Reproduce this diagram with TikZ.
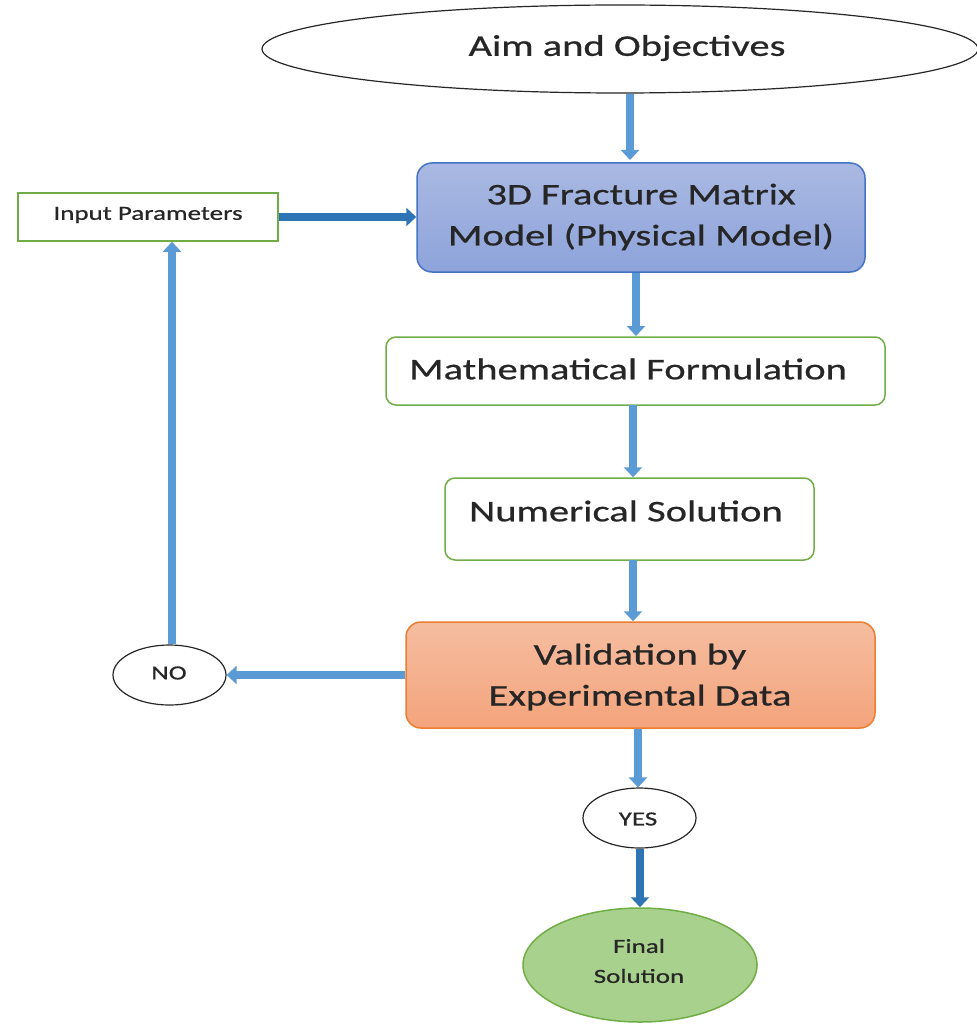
\documentclass[tikz,border=0pt]{standalone}
\usepackage{fontspec}
\setmainfont[FakeStretch=1.35,FakeBold=0.7]{Carlito}
\usetikzlibrary{arrows.meta,shapes.geometric}
\definecolor{lblue}{HTML}{5B9BD5}
\definecolor{dblue}{HTML}{2E75B6}
\definecolor{gborder}{HTML}{70AD47}
\definecolor{gfill}{HTML}{A9D18E}
\definecolor{bborder}{HTML}{4472C4}
\definecolor{btop}{HTML}{AAB9E2}
\definecolor{bbot}{HTML}{8DA3DA}
\definecolor{oborder}{HTML}{ED7D31}
\definecolor{otop}{HTML}{F5BDA0}
\definecolor{obot}{HTML}{F4A47C}
\definecolor{txt}{HTML}{262626}
\tikzset{
  conn/.style={draw=lblue, line width=8pt, -{Triangle[width=18pt,length=10pt]}},
  dconn/.style={draw=dblue, line width=8pt, -{Triangle[width=18pt,length=10pt]}},
  greenbox/.style={draw=gborder, line width=1.5pt, fill=white, rounded corners=10pt, inner sep=0pt},
  oval/.style={ellipse, draw=black!85, line width=1.2pt, fill=white, inner sep=0pt},
  bigtxt/.style={font=\fontsize{30}{41}\selectfont, text=txt, align=center},
  smalltxt/.style={font=\fontsize{20}{30}\selectfont, text=txt, align=center},
}
\begin{document}
\begin{tikzpicture}[x=1pt,y=-1pt]
\useasboundingbox (0,0) rectangle (976,1024);
% nodes
\node[oval, minimum width=716pt, minimum height=88pt] (aim) at (620,49) {};
\node[bigtxt] at (627,48) {Aim and Objectives};

\node[draw=bborder, line width=1.5pt, rounded corners=15pt, top color=btop, bottom color=bbot,
      minimum width=448pt, minimum height=109pt, inner sep=0pt] (model) at (641,217.5) {};
\node[bigtxt] at (641,217) {3D Fracture Matrix\\Model (Physical Model)};

\node[draw=gborder, line width=1.5pt, fill=white, minimum width=260pt, minimum height=48pt, inner sep=0pt] (input) at (148,217) {};
\node[smalltxt] at (148,215) {Input Parameters};

\node[greenbox, minimum width=499pt, minimum height=68pt] (math) at (635.5,371) {};
\node[bigtxt] at (628,369) {Mathematical Formulation};

\node[greenbox, minimum width=369pt, minimum height=82pt] (num) at (629.5,519) {};
\node[bigtxt] at (626,511) {Numerical Solution};

\node[draw=oborder, line width=1.5pt, rounded corners=15pt, top color=otop, bottom color=obot,
      minimum width=469pt, minimum height=106pt, inner sep=0pt] (valid) at (640.5,675) {};
\node[bigtxt] at (640,677) {Validation by\\Experimental Data};

\node[oval, minimum width=113pt, minimum height=60pt] (no) at (169.5,675) {};
\node[smalltxt] at (169,673) {NO};

\node[oval, minimum width=113pt, minimum height=60pt] (yes) at (639.5,818) {};
\node[smalltxt] at (638,819) {YES};

\node[ellipse, draw=gborder, line width=1.5pt, fill=gfill, minimum width=234pt, minimum height=114pt, inner sep=0pt] (final) at (640,965) {};
\node[smalltxt] at (639,961) {Final\\Solution};

% connectors
\draw[conn] (aim.south -| 630,0) -- (630,160);
\draw[dconn] (input.east) -- (model.west |- input.east);
\draw[conn] (model.south -| 636,0) -- (636,336);
\draw[conn] (633,405) -- (num.north -| 633,0);
\draw[conn] (633,560) -- (valid.north -| 633,0);
\draw[conn] (valid.west |- no.east) -- (no.east);
\draw[conn] (no.north -| 172,0) -- (input.south -| 172,0);
\draw[conn] (valid.south -| 638,0) -- (yes.north -| 638,0);
\draw[dconn] (yes.south -| 640,0) -- (final.north);
\end{tikzpicture}
\end{document}
